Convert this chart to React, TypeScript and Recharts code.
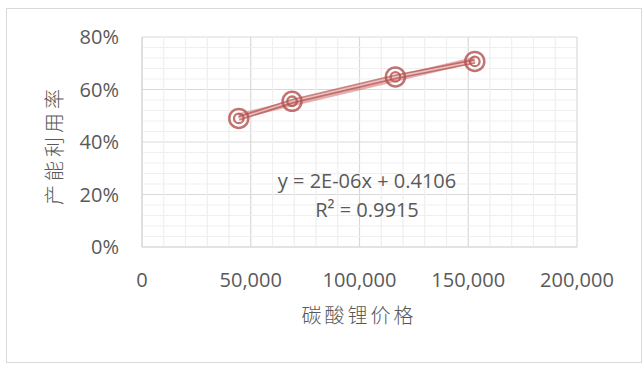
import React from 'react';
import { ComposedChart, Line, XAxis, YAxis, CartesianGrid, ReferenceLine } from 'recharts';

const prices = [44500, 69000, 116500, 153000];
const utilization = [0.49, 0.555, 0.648, 0.707];
const xTicks = [0, 50000, 100000, 150000, 200000];
const yTicks = [0, 0.2, 0.4, 0.6, 0.8];
const equationText = 'y = 2E-06x + 0.4106';
const r2Text = 'R² = 0.9915';
const xTitle = '碳酸锂价格';
const yTitle = '产能利用率';

const data = prices.map((p, i) => ({ x: p, y: utilization[i] }));

// least-squares trendline from the data
const n = prices.length;
const mx = prices.reduce((a, b) => a + b, 0) / n;
const my = utilization.reduce((a, b) => a + b, 0) / n;
let sxy = 0, sxx = 0;
prices.forEach((p, i) => { sxy += (p - mx) * (utilization[i] - my); sxx += (p - mx) * (p - mx); });
const slope = sxy / sxx;
const intercept = my - slope * mx;
const xMin = Math.min(...prices);
const xMax = Math.max(...prices);

const minorX: number[] = [];
for (let v = 10000; v < 200000; v += 10000) if (v % 50000 !== 0) minorX.push(v);
const minorY: number[] = [];
for (let k = 1; k < 20; k++) if (k % 5 !== 0) minorY.push(k * 0.04);

const RED = '#b3514f';
const FONT = '"Open Sans", "Noto Sans", sans-serif';
const CJK = '"Noto Sans CJK SC", sans-serif';

const Dot = (props: any) => {
  const { cx, cy } = props;
  if (cx == null || cy == null) return null;
  return (
    <g>
      <circle cx={cx} cy={cy} r={9.5} fill="none" stroke={RED} strokeWidth={2.5} strokeOpacity={0.8} />
      <circle cx={cx} cy={cy} r={4.8} fill="none" stroke={RED} strokeWidth={2.3} strokeOpacity={0.8} />
    </g>
  );
};

export default function App() {
  return (
    <div style={{ position: 'absolute', left: 0, top: 0, width: 642, height: 367, background: '#fff', overflow: 'hidden' }}>
      <div style={{ position: 'absolute', left: 6, top: 8, width: 636, height: 355, border: '1px solid #d9d9d9', boxSizing: 'border-box' }} />
      <ComposedChart
        width={642}
        height={367}
        data={data}
        margin={{ top: 37, right: 65, bottom: 60, left: 0 }}
        style={{ position: 'absolute', left: 0, top: 0 }}
      >
        {minorX.map((v) => (
          <ReferenceLine key={'mx' + v} x={v} stroke="#efefef" strokeWidth={1.2} />
        ))}
        {minorY.map((v) => (
          <ReferenceLine key={'my' + v} y={v} stroke="#efefef" strokeWidth={1.2} />
        ))}
        <CartesianGrid stroke="#d9d9d9" strokeWidth={1.2} />
        <XAxis
          type="number"
          dataKey="x"
          domain={[0, 200000]}
          ticks={xTicks}
          tickFormatter={(v: number) => v.toLocaleString('en-US')}
          axisLine={{ stroke: '#d9d9d9', strokeWidth: 1.2 }}
          tickLine={false}
          tickSize={0}
          tickMargin={26}
          height={60}
          tick={{ fill: '#595959', fontSize: 20, fontFamily: FONT }}
          interval={0}
        />
        <YAxis
          type="number"
          domain={[0, 0.8]}
          ticks={yTicks}
          tickFormatter={(v: number) => `${Math.round(v * 100)}%`}
          axisLine={{ stroke: '#d9d9d9', strokeWidth: 1.2 }}
          tickLine={false}
          tickSize={0}
          tickMargin={23}
          width={142}
          tick={{ fill: '#595959', fontSize: 20, fontFamily: FONT }}
          interval={0}
        />
        <ReferenceLine
          segment={[{ x: xMin, y: slope * xMin + intercept }, { x: xMax, y: slope * xMax + intercept }]}
          stroke="#c0504d"
          strokeWidth={6}
          strokeOpacity={0.45}
        />
        <Line
          dataKey="y"
          type="linear"
          stroke={RED}
          strokeWidth={5}
          strokeOpacity={0.7}
          dot={false}
          activeDot={false}
          isAnimationActive={false}
        />
        <Line
          dataKey="y"
          type="linear"
          stroke="#e8c0bf"
          strokeWidth={1.6}
          dot={<Dot />}
          activeDot={false}
          isAnimationActive={false}
        />
      </ComposedChart>
      <div style={{ position: 'absolute', left: 247, top: 166, width: 240, textAlign: 'center', fontFamily: FONT, fontSize: 20, lineHeight: '29px', color: '#595959', whiteSpace: 'nowrap' }}>
        <div>{equationText}</div>
        <div>{r2Text}</div>
      </div>
      <div style={{ position: 'absolute', left: 259, top: 300, width: 200, textAlign: 'center', fontFamily: CJK, fontSize: 20, fontWeight: 300, color: '#595959', letterSpacing: 3, lineHeight: '30px' }}>
        {xTitle}
      </div>
      <div style={{ position: 'absolute', left: 54 - 100, top: 145 - 15, width: 200, height: 30, textAlign: 'center', fontFamily: CJK, fontSize: 20, fontWeight: 300, color: '#595959', letterSpacing: 4, lineHeight: '30px', transform: 'rotate(-90deg)', transformOrigin: '100px 15px' }}>
        {yTitle}
      </div>
    </div>
  );
}
